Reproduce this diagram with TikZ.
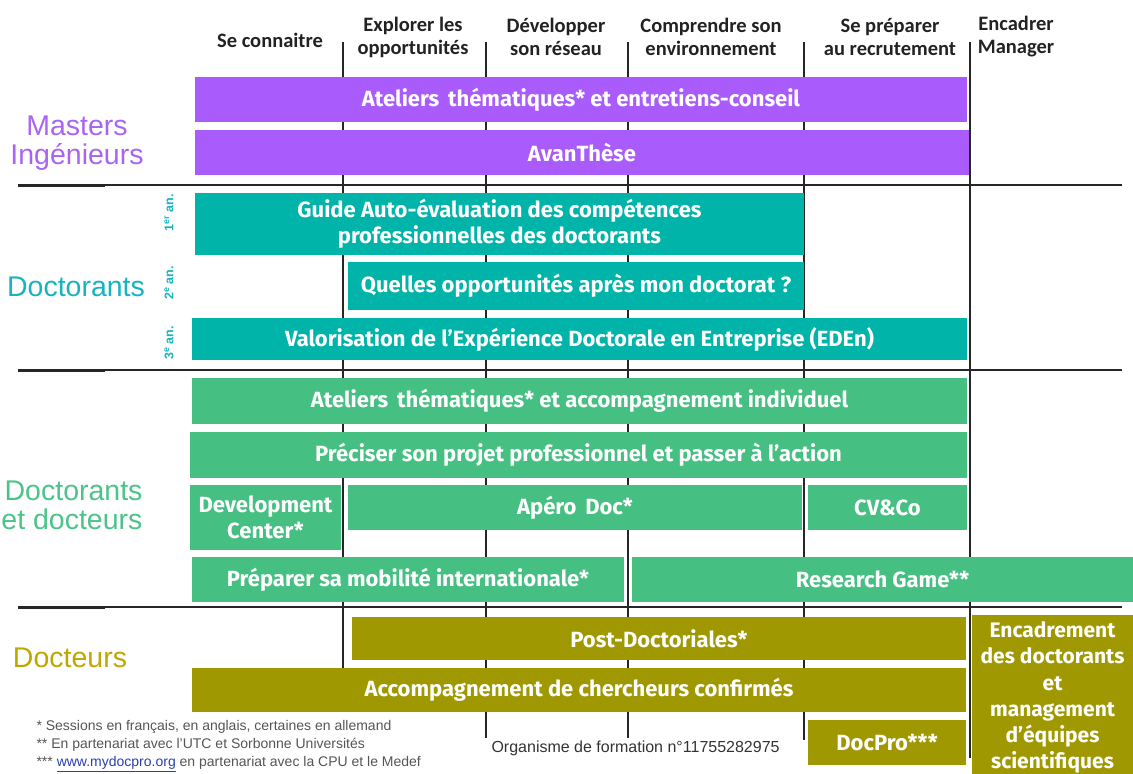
\documentclass[tikz,border=0pt]{standalone}
\usepackage{fontspec}
\setmainfont{Liberation Sans}
\newfontfamily\barfont{Fira Sans}
\newfontfamily\hdrfont{Carlito}
\definecolor{purp}{HTML}{A95BFB}
\definecolor{purpL}{HTML}{A964F2}
\definecolor{tealB}{HTML}{00B4AA}
\definecolor{tealL}{HTML}{14B4C0}
\definecolor{grn}{HTML}{46C082}
\definecolor{grnL}{HTML}{4CC38A}
\definecolor{oliv}{HTML}{A09800}
\definecolor{olivL}{HTML}{C0A600}
\definecolor{hdr}{HTML}{222222}
\definecolor{foot}{HTML}{555555}
\definecolor{lnk}{HTML}{2A3FB0}
\tikzset{
  bar/.style={inner sep=0pt, outer sep=0pt, anchor=north west, text=white,
    font=\barfont\bfseries\fontsize{22}{26}\selectfont, align=center},
  hd/.style={font=\hdrfont\bfseries\fontsize{20.5}{23}\selectfont, text=hdr, align=center},
  cat/.style={font=\fontsize{28.5}{29}\selectfont, align=center},
  yr/.style={rotate=90, text=tealL, font=\bfseries\fontsize{12.5}{13}\selectfont},
  vline/.style={line width=1.8pt, draw=black!85},
  hline/.style={line width=1.5pt, draw=black!85},
  fn/.style={font=\fontsize{14}{15}\selectfont, text=foot, anchor=west}
}
\newcommand\bx[7]{\node[bar,fill=#6,minimum width={#4pt-#2pt},minimum height={#5pt-#3pt}] (#1) at (#2,#3) {#7};}
\begin{document}
\begin{tikzpicture}[x=1pt,y=-1pt]
\useasboundingbox (0,0) rectangle (1133,774);
% vertical grid lines
\draw[vline] (343,42) -- (343,668);
\draw[vline] (486,42) -- (486,738);
\draw[vline] (628,42) -- (628,738);
\draw[vline] (804,42) -- (804,740);
\draw[vline] (970,42) -- (970,758);
% horizontal separators
\foreach \yy in {185,370,607}{
  \draw[hline] (18,\yy) -- (1122,\yy);
  \draw[line width=3pt, draw=black!85] (18,\yy) -- (105,\yy);
}
% headers
\node[hd] (h1) at (270,40) {Se connaitre};
\node[hd] (h2) at (413,37) {Explorer les\\opportunités};
\node[hd] (h3) at (556,37) {Développer\\son réseau};
\node[hd] (h4) at (711,37) {Comprendre son\\environnement};
\node[hd] (h5) at (890,37) {Se préparer\\au recrutement};
\node[hd] (h6) at (1016,37) {Encadrer\\Manager};
% category labels
\node[cat, text=purpL] (cm) at (77,143) {Masters\\Ingénieurs};
\node[cat, text=tealL] (cd) at (76,287) {Doctorants};
\node[cat, text=grnL, align=right, anchor=east] (cdd) at (146,505) {Doctorants\\et docteurs};
\node[cat, text=olivL] (cdo) at (70,658) {Docteurs};
% year labels
\node[yr] (y1) at (169,213) {1\textsuperscript{er} an.};
\node[yr] (y2) at (169,283) {2\textsuperscript{e} an.};
\node[yr] (y3) at (169,343) {3\textsuperscript{e} an.};
% Masters
\bx{m1}{195}{77}{967}{122}{purp}{Ateliers\, thématiques* et entretiens-conseil}
\bx{m2}{195}{130}{969}{175}{purp}{AvanThèse}
% Doctorants
\bx{d1}{195}{193}{804}{255}{tealB}{Guide Auto-évaluation des compétences\\professionnelles des doctorants}
\bx{d2}{348}{262}{804}{310}{tealB}{Quelles opportunités après mon doctorat ?}
\bx{d3}{192}{318}{967}{360}{tealB}{Valorisation de l’Expérience Doctorale en Entreprise (EDEn)}
% Doctorants et docteurs
\bx{g1}{192}{378}{967}{424}{grn}{Ateliers\, thématiques* et accompagnement individuel}
\bx{g2}{190}{432}{967}{478}{grn}{Préciser son projet professionnel et passer à l’action}
\bx{g3}{190}{485}{341}{550}{grn}{Development\\Center*}
\bx{g4}{348}{485}{802}{530}{grn}{Apéro\, Doc*}
\bx{g5}{808}{485}{967}{530}{grn}{CV\&Co}
\bx{g6}{192}{557}{624}{602}{grn}{Préparer sa mobilité internationale*}
\bx{g7}{632}{557}{1133}{602}{grn}{Research Game**}
% Docteurs
\bx{o1}{352}{617}{966}{660}{oliv}{Post-Doctoriales*}
\bx{o2}{192}{668}{966}{712}{oliv}{Accompagnement de chercheurs confirmés}
\bx{o3}{808}{720}{966}{765}{oliv}{DocPro***}
\node[bar, fill=oliv, minimum width=161pt, minimum height=165pt, anchor=north west,
  font=\barfont\bfseries\fontsize{21}{26.2}\selectfont] (o4) at (972,615)
  {Encadrement\\des doctorants\\et\\management\\d’équipes\\scientifiques};
% footnotes
\node[fn] (f1) at (33,727) {* Sessions en français, en anglais, certaines en allemand};
\node[fn] (f2) at (33,745) {** En partenariat avec l’UTC et Sorbonne Universités};
\node[fn] (f3) at (33,764) {*** \textcolor{lnk}{\underline{www.mydocpro.org}} en partenariat avec la CPU et le Medef};
\node[fn, font=\fontsize{16}{17}\selectfont, text=black!80] (f4) at (488,748) {Organisme de formation n°11755282975};
\end{tikzpicture}
\end{document}
